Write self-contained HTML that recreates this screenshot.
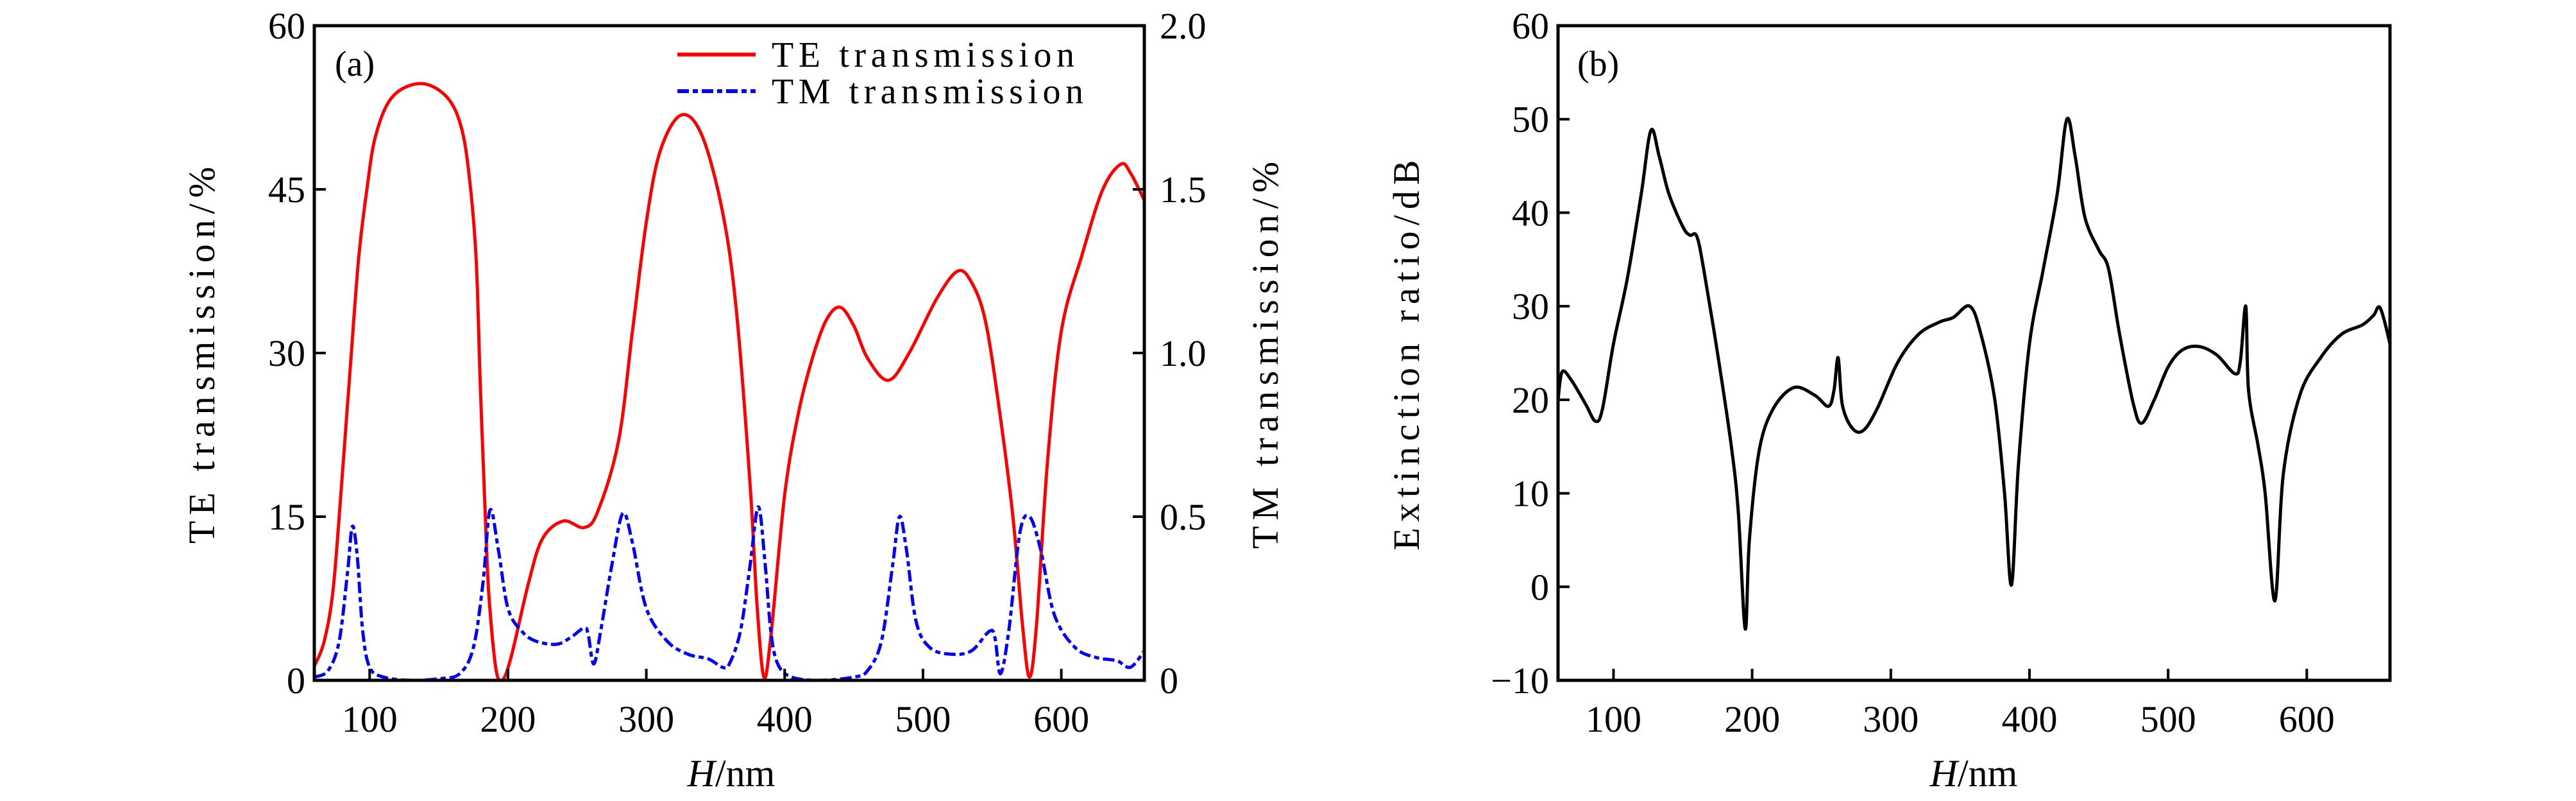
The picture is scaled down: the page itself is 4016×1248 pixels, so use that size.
<!DOCTYPE html>
<html><head><meta charset="utf-8"><style>
html,body{margin:0;padding:0;background:#fff;}
svg{display:block;font-family:"Liberation Serif",serif;}
</style></head><body>
<svg id="fig" width="4016" height="1248" viewBox="0 0 4016 1248" xmlns="http://www.w3.org/2000/svg">
<g id="pa"></g>
<g id="pb"></g>
</svg>
<script>
const teX=[60,67,73.5,79.5,86,92,98,104.5,116.6,137,155.5,166,172,177,180,183.4,186,191,195.5,202,215,225,240,255,265,280,290,300,310,325,340,355,365,375,380,385,390,400,410,420,430,440,450,460,475,490,510,525,535,545,555,565,572,577,582,590,600,615,630,643,650,660];
const teY=[1.3,3.5,8.2,17.6,28.7,38.6,45,50,53.5,54.7,53.5,50.8,46.2,38.6,27,15.8,8.2,1.3,0,2,9,13,14.6,14,15.5,22,32,42,48.5,51.8,50,43,34,18,7,0.3,4,17,24.5,29.5,33,34.2,32.5,29.5,27.5,30,35,37.5,36.5,33,25,15,5,0.3,5,20,32,39,45,47.3,46.5,44];
const tmX=[60,70,78,84,87.5,91,95,100,110,130,150,165,175,182,187,193,200,210,220,235,245,255,258,262,267,275,283,290,300,315,330,345,355,360,368,375,381,386,390,395,405,425,450,460,470,478,483,488,495,505,520,535,548,552,556,562,570,577,585,595,610,625,640,650,660];
const tmY=[0.01,0.03,0.12,0.33,0.47,0.38,0.15,0.04,0.01,0,0.005,0.02,0.1,0.3,0.52,0.4,0.22,0.15,0.12,0.11,0.13,0.16,0.14,0.05,0.15,0.35,0.51,0.42,0.22,0.12,0.08,0.065,0.04,0.05,0.15,0.35,0.53,0.35,0.15,0.05,0.01,0,0.01,0.03,0.12,0.35,0.5,0.4,0.18,0.1,0.08,0.09,0.15,0.13,0.02,0.15,0.45,0.5,0.4,0.2,0.1,0.07,0.06,0.04,0.09];
const erX=[60,63,70,80,87,92,100,110,120,127,133,140,150,155,160,165,175,185,190,195,198,205,215,230,245,255,259,262,265,272,280,290,305,320,335,345,357,365,375,382,387,392,400,410,420,427,433,440,450,457,465,475,481,490,500,510,522,535,548,552,556,558,565,570,577,583,595,610,625,640,648,653,660];
const erY=[20,23,22,19.5,17.7,19,26,33,42,48.8,46,42,38.5,37.6,37.5,34,25,15,8,-4.5,5,14.5,19,21.3,20.5,19.3,21,24.5,19.5,17,16.7,19,24,27,28.3,28.8,30,27,20,10,0.2,13,26,34,42,50,46,39.5,36,34,27,19.5,17.5,20,23.5,25.3,25.7,24.8,22.8,24,30,21,15,10,-1.5,12,20.5,24.5,27,28,29,29.8,26];
const xTicks=[100,200,300,400,500,600];
const aLeftTicks=[0,15,30,45,60];
const aRightTicks=[0,0.5,1.0,1.5,2.0];
const aRightLabels=["0","0.5","1.0","1.5","2.0"];
const bTicks=[-10,0,10,20,30,40,50,60];
const bLabels=["\u221210","0","10","20","30","40","50","60"];

const NS="http://www.w3.org/2000/svg";
function mk(parent,tag,attrs,text){const e=document.createElementNS(NS,tag);for(const k in attrs)e.setAttribute(k,attrs[k]);if(text!==undefined)e.textContent=text;parent.appendChild(e);return e;}
function scale(d0,d1,r0,r1){return v=>r0+(v-d0)/(d1-d0)*(r1-r0);}
function smoothPath(xs,ys,sx,sy){const P=xs.map((x,i)=>[sx(x),sy(ys[i])]);let d="M"+P[0][0].toFixed(1)+","+P[0][1].toFixed(1);
for(let i=0;i<P.length-1;i++){const p0=P[Math.max(0,i-1)],p1=P[i],p2=P[i+1],p3=P[Math.min(P.length-1,i+2)];
const c1=[p1[0]+(p2[0]-p0[0])/6,p1[1]+(p2[1]-p0[1])/6],c2=[p2[0]-(p3[0]-p1[0])/6,p2[1]-(p3[1]-p1[1])/6];
d+="C"+c1[0].toFixed(1)+","+c1[1].toFixed(1)+" "+c2[0].toFixed(1)+","+c2[1].toFixed(1)+" "+p2[0].toFixed(1)+","+p2[1].toFixed(1);}return d;}

// Panel A
const A=document.getElementById('pa');
const aL=490,aR=1784,T=40,B=1060;
const ax=scale(60,660,aL,aR),ayL=scale(0,60,B,T),ayR=scale(0,2,B,T);
const clipA=mk(A,'clipPath',{id:'ca'});mk(clipA,'rect',{x:aL,y:T,width:aR-aL,height:B-T});
let te=mk(A,'path',{d:smoothPath(teX,teY,ax,ayL),fill:'none',stroke:'#ff0000','stroke-width':5,'clip-path':'url(#ca)'});


let tm=mk(A,'path',{d:smoothPath(tmX,tmY,ax,ayR),fill:'none',stroke:'#0000ff','stroke-width':5,'stroke-dasharray':'18 6 8 6','clip-path':'url(#ca)'});


let fa=mk(A,'rect',{x:aL,y:T,width:aR-aL,height:B-T,fill:'none',stroke:'#000','stroke-width':5});


xTicks.forEach(v=>{const x=ax(v);mk(A,'line',{x1:x,y1:B,x2:x,y2:B-18,stroke:'#000','stroke-width':4});
let t=mk(A,'text',{x:x,y:B+80,'font-size':58,'text-anchor':'middle'},String(v));

});
aLeftTicks.forEach(v=>{const y=ayL(v);mk(A,'line',{x1:aL,y1:y,x2:aL+18,y2:y,stroke:'#000','stroke-width':4});
let t=mk(A,'text',{x:aL-14,y:y+20,'font-size':58,'text-anchor':'end'},String(v));

});
aRightTicks.forEach((v,i)=>{const y=ayR(v);mk(A,'line',{x1:aR,y1:y,x2:aR-18,y2:y,stroke:'#000','stroke-width':4});
let t=mk(A,'text',{x:aR+24,y:y+20,'font-size':58,'text-anchor':'start'},aRightLabels[i]);

});
let yt=mk(A,'text',{x:0,y:0,'font-size':58,'text-anchor':'middle','letter-spacing':'9',transform:'translate(334,549) rotate(-90)'},'TE transmission/%');


let yt2=mk(A,'text',{x:0,y:0,'font-size':58,'text-anchor':'middle','letter-spacing':'9',transform:'translate(1992,549) rotate(-90)'},'TM transmission/%');


let xt=mk(A,'text',{x:1140,y:1225,'font-size':60,'text-anchor':'middle'});
xt.innerHTML='<tspan font-style="italic">H</tspan>/nm';


let la=mk(A,'text',{x:522,y:118,'font-size':56},'(a)');


let l1=mk(A,'line',{x1:1056,y1:85,x2:1178,y2:85,stroke:'#ff0000','stroke-width':6});


let l2=mk(A,'line',{x1:1056,y1:142,x2:1178,y2:142,stroke:'#0000ff','stroke-width':6,'stroke-dasharray':'18 6 8 6'});


let lt1=mk(A,'text',{x:1203,y:104,'font-size':56,textLength:472},'TE transmission');


let lt2=mk(A,'text',{x:1203,y:161,'font-size':56,textLength:486},'TM transmission');



// Panel B
const Bp=document.getElementById('pb');
const bL=2429,bR=3726;
const bx=scale(60,660,bL,bR),by=scale(-10,60,B,T);
const clipB=mk(Bp,'clipPath',{id:'cb'});mk(clipB,'rect',{x:bL,y:T,width:bR-bL,height:B-T});
let er=mk(Bp,'path',{d:smoothPath(erX,erY,bx,by),fill:'none',stroke:'#000','stroke-width':5,'clip-path':'url(#cb)'});


let fb=mk(Bp,'rect',{x:bL,y:T,width:bR-bL,height:B-T,fill:'none',stroke:'#000','stroke-width':5});


xTicks.forEach(v=>{const x=bx(v);mk(Bp,'line',{x1:x,y1:B,x2:x,y2:B-18,stroke:'#000','stroke-width':4});
let t=mk(Bp,'text',{x:x,y:B+80,'font-size':58,'text-anchor':'middle'},String(v));

});
bTicks.forEach((v,i)=>{const y=by(v);mk(Bp,'line',{x1:bL,y1:y,x2:bL+18,y2:y,stroke:'#000','stroke-width':4});
let t=mk(Bp,'text',{x:bL-14,y:y+20,'font-size':58,'text-anchor':'end'},bLabels[i]);

});
let ybt=mk(Bp,'text',{x:0,y:0,'font-size':58,'text-anchor':'middle','letter-spacing':'9',transform:'translate(2212,549) rotate(-90)'},'Extinction ratio/dB');


let xbt=mk(Bp,'text',{x:3077,y:1225,'font-size':60,'text-anchor':'middle'});
xbt.innerHTML='<tspan font-style="italic">H</tspan>/nm';


let lb=mk(Bp,'text',{x:2459,y:118,'font-size':56},'(b)');


</script>
</body></html>
